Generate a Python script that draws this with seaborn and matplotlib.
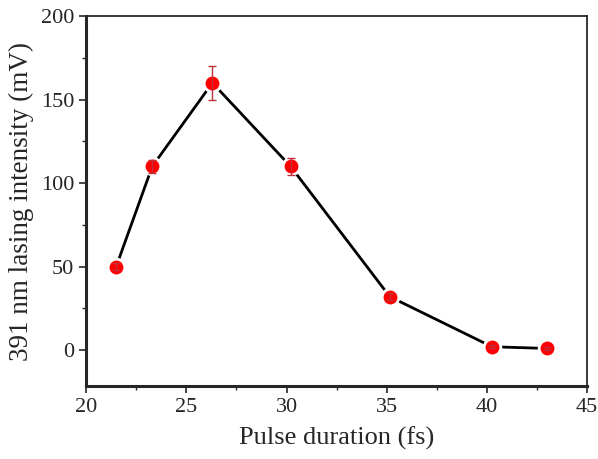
import seaborn as sns
import matplotlib.pyplot as plt
import pandas as pd
from matplotlib.ticker import MultipleLocator

duracion = [21.5, 23.3, 26.3, 30.2, 35.15, 40.25, 43.0]
intensidad = [50, 110, 160, 110, 32, 2, 1]
error = [2, 4, 10, 5, 2, 1, 1]

df = pd.DataFrame({'duracion': duracion, 'intensidad': intensidad, 'error': error})

sns.set_style("ticks")
plt.rcParams['font.family'] = ['Liberation Serif', 'DejaVu Serif']

fig = plt.figure(figsize=(5.98, 4.59), dpi=100)
ax = fig.add_axes([0.144, 0.159, 0.838, 0.806])

sns.lineplot(x='duracion', y='intensidad', data=df, color='black', linewidth=2,
             marker='o', markersize=12, markerfacecolor='red', markeredgecolor='white',
             markeredgewidth=2, ax=ax, zorder=2)
ax.errorbar(df['duracion'], df['intensidad'], yerr=df['error'], fmt='none',
            ecolor='#c0303a', elinewidth=1, capsize=3, capthick=1, zorder=3)

ax.set_xlim(20, 45)
ax.set_ylim(-21.5, 200)
ax.xaxis.set_major_locator(MultipleLocator(5))
ax.xaxis.set_minor_locator(MultipleLocator(2.5))
ax.yaxis.set_major_locator(MultipleLocator(50))
ax.yaxis.set_minor_locator(MultipleLocator(25))
ax.tick_params(which='major', length=5, width=1.2, labelsize=16, direction='out')
ax.tick_params(which='minor', length=3, width=1, direction='out')
ax.tick_params(top=False, right=False)

ax.spines['left'].set_linewidth(2.2)
ax.spines['bottom'].set_linewidth(2.2)
ax.spines['top'].set_linewidth(1.3)
ax.spines['right'].set_linewidth(1.3)

ax.set_xlabel("Pulse duration (fs)", fontsize=19, labelpad=7)
ax.set_ylabel("391 nm lasing intensity (mV)", fontsize=19.5, labelpad=5)

plt.savefig("out.png", dpi=100)
